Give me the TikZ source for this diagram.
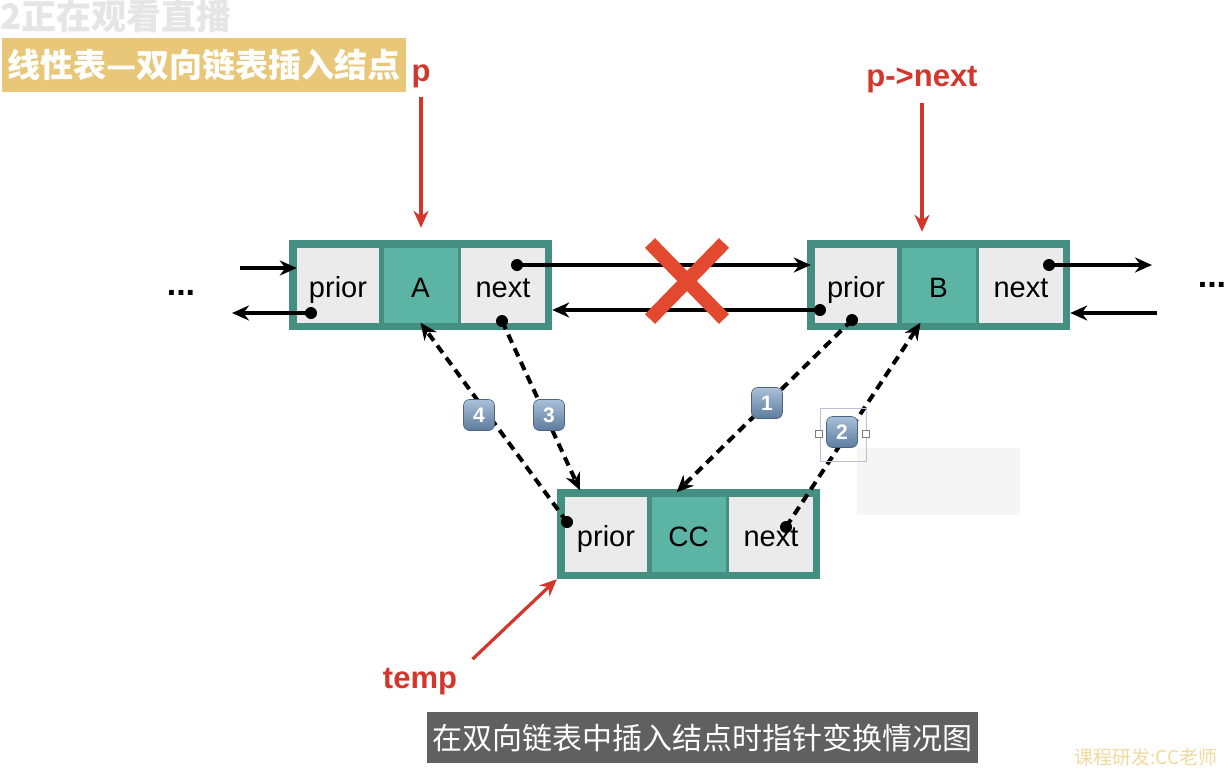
\documentclass[tikz,border=0pt]{standalone}
\usepackage{fontspec}
\setmainfont{Liberation Sans}
\newfontfamily\cjk{Noto Sans CJK SC}
\usetikzlibrary{arrows.meta}
\definecolor{tealdark}{HTML}{458F82}
\definecolor{tealcell}{HTML}{5BB4A4}
\definecolor{cellgray}{HTML}{EBEBEB}
\definecolor{redlab}{HTML}{D5362B}
\definecolor{xred}{HTML}{E2492F}
\definecolor{goldbar}{HTML}{E8C878}
\definecolor{capgray}{HTML}{606060}
\definecolor{badgetop}{HTML}{AAC0D8}
\definecolor{badgebot}{HTML}{5D7C9E}
\definecolor{paleGold}{HTML}{F2DA9E}
\tikzset{
  outerbox/.style={fill=tealdark, minimum width=263pt, minimum height=90pt, inner sep=0pt},
  graycell/.style={fill=cellgray, minimum height=75pt, inner sep=0pt, font=\fontsize{29}{29}\selectfont},
  tealbox/.style={fill=tealcell, minimum height=75pt, inner sep=0pt, font=\fontsize{28}{28}\selectfont},
  dotnode/.style={circle, fill=black, minimum size=12pt, inner sep=0pt},
  solidarrow/.style={line width=3.2pt, -{Stealth[length=17pt,width=15pt]}},
  dasharrow/.style={line width=4pt, dash pattern=on 9pt off 6pt, -{Stealth[length=17pt,width=15pt]}},
  redarrow/.style={draw=redlab, line width=3.2pt, -{Stealth[length=17pt,width=15pt]}},
  redlabel/.style={text=redlab, font=\bfseries\fontsize{31}{31}\selectfont},
  badge/.style={rounded corners=6pt, minimum size=31pt, inner sep=0pt, top color=badgetop, bottom color=badgebot, draw=badgebot!80!black, line width=0.6pt, text=white, font=\bfseries\fontsize{21}{21}\selectfont},
  dots/.style={font=\bfseries\fontsize{34}{34}\selectfont}
}
\newcommand\celltext[1]{\raisebox{-12.5pt}[0pt][0pt]{#1}}
\newcommand\dlnode[5]{%
  \node[outerbox] (#1) at (#2,#3) {};
  \node[graycell, minimum width=82pt] (#1p) at ([xshift=-82.5pt]#1.center) {\celltext{prior}};
  \node[tealbox, minimum width=74pt] (#1d) at (#1.center) {\celltext{#4}};
  \node[graycell, minimum width=84pt] (#1n) at ([xshift=82.5pt]#1.center) {\celltext{next}};
}
\begin{document}
\begin{tikzpicture}[x=1pt,y=-1pt]
\useasboundingbox[fill=white] (0,0) rectangle (1232,780);

% header texts
\node[text=gray!20, font=\cjk\bfseries\fontsize{35}{35}\selectfont, anchor=west, inner sep=0pt] (watch) at (0,16) {2正在观看直播};
\node[fill=goldbar, minimum width=404pt, minimum height=54pt, inner sep=0pt, text=white, font=\cjk\bfseries\fontsize{33}{33}\selectfont] (title) at (204,65) {线性表—双向链表插入结点};

% faint background artefact
\fill[gray!8] (857,448) rectangle (1020,515);

% list nodes
\dlnode{A}{420.5}{285}{A}{}
\dlnode{B}{938.5}{285}{B}{}
\dlnode{C}{688.5}{534}{CC}{}

% dots
\node[dotnode] (Apdot) at (311,313) {};
\node[dotnode] (Andot) at (517,265) {};
\node[dotnode] (Anbdot) at (502,321) {};
\node[dotnode] (Bpdot) at (820,310) {};
\node[dotnode] (Bpbdot) at (852,320) {};
\node[dotnode] (Bndot) at (1049,265) {};
\node[dotnode] (Cpdot) at (567,522) {};
\node[dotnode] (Cndot) at (786,527) {};

% free ends
\coordinate (lin) at (240,268);
\coordinate (lout) at (232,313);
\coordinate (rout) at (1152,265);
\coordinate (rin) at (1157,313);

% ellipses
\node[dots] (ldots) at (181,293) {...};
\node[dots] (rdots) at (1212,285) {...};

% solid pointers
\draw[solidarrow] (lin) -- ([xshift=8pt]A.west |- lin);
\draw[solidarrow] (Apdot.center) -- (lout);
\draw[solidarrow] (Andot.center) -- ([xshift=4pt]B.west |- Andot);
\draw[solidarrow] (Bpdot.center) -- (A.east |- Bpdot);
\draw[solidarrow] (Bndot.center) -- (rout);
\draw[solidarrow] (rin) -- (B.east |- rin);

% red cross
\coordinate (X) at (687,281);
\draw[xred, line width=14pt] ([shift={(-37,-38)}]X) -- ([shift={(37,38)}]X);
\draw[xred, line width=14pt] ([shift={(37,-38)}]X) -- ([shift={(-37,38)}]X);

% dashed pointers
\draw[dasharrow] (Bpbdot.center) -- ([xshift=-12pt,yshift=4pt]Cd.north);
\draw[dasharrow] (Cndot.center) -- ([xshift=-18pt]Bd.south);
\draw[dasharrow] (Anbdot.center) -- ([xshift=-26pt,yshift=6pt]Cp.north);
\draw[dasharrow] (Cpdot.center) -- (Ad.south);

% selection frame around badge 2
\draw[blue!25!gray!40, line width=0.6pt] (820,408) rectangle (866,461);
\node[draw=gray, fill=white, minimum size=7pt, inner sep=0pt, line width=0.6pt] (h1) at (819,434) {};
\node[draw=gray, fill=white, minimum size=7pt, inner sep=0pt, line width=0.6pt] (h2) at (866,434) {};

% badges
\node[badge] (b1) at (767,403) {1};
\node[badge] (b2) at (842,432) {2};
\node[badge] (b3) at (549,415) {3};
\node[badge] (b4) at (479,415) {4};

% red labels
\node[redlabel] (plab) at (421,76) {p};
\node[redlabel] (pnlab) at (922,80) {p->next};
\node[redlabel] (templab) at (420,682) {temp};
\draw[redarrow] ([yshift=-6pt]plab.south) -- ([yshift=12pt]A.north -| plab);
\draw[redarrow] ([yshift=-6pt]pnlab.south) -- ([yshift=8pt]B.north -| pnlab);
\draw[redarrow] ([shift={(12pt,6pt)}]templab.north east) -- (C.south west);

% caption
\node[fill=capgray, minimum width=551pt, minimum height=51pt, inner sep=0pt, text=white, font=\cjk\fontsize{30}{30}\selectfont] (cap) at (702.5,737.5) {在双向链表中插入结点时指针变换情况图};
\node[text=paleGold, font=\cjk\fontsize{19}{19}\selectfont] (credit) at (1146,757) {课程研发:CC老师};
\end{tikzpicture}
\end{document}
